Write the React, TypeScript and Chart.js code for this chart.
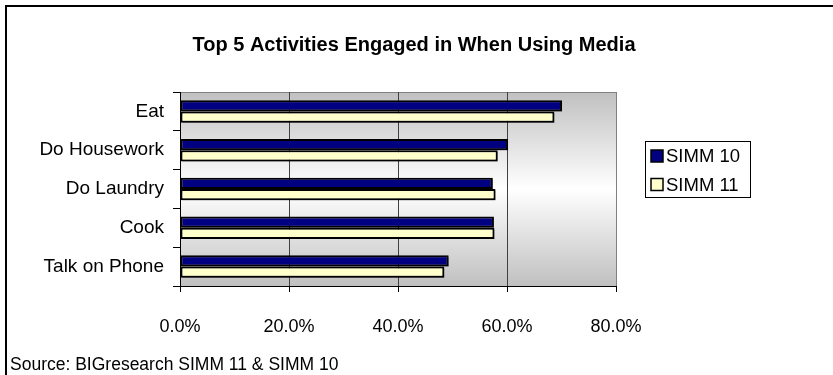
import React, { useEffect, useRef } from "react";
import { Chart, registerables } from "chart.js";

Chart.register(...registerables);

const TITLE = "Top 5 Activities Engaged in When Using Media";
const SOURCE = "Source: BIGresearch SIMM 11 & SIMM 10";
const categories = ["Eat", "Do Housework", "Do Laundry", "Cook", "Talk on Phone"];
const seriesNames = ["SIMM 10", "SIMM 11"];
const simm10 = [70.1, 60.2, 57.4, 57.6, 49.3];
const simm11 = [68.7, 58.3, 57.9, 57.7, 48.5];
const xTicks = [0, 20, 40, 60, 80];

const FONT = '"Liberation Sans", Arial, sans-serif';

const deco = {
  id: "deco",
  beforeDraw(chart: any) {
    const { ctx, chartArea: a } = chart;
    ctx.save();
    const g = ctx.createLinearGradient(0, a.top, 0, a.bottom);
    g.addColorStop(0, "#c0c0c0");
    g.addColorStop(0.5, "#ffffff");
    g.addColorStop(1, "#c0c0c0");
    ctx.fillStyle = g;
    ctx.fillRect(a.left, a.top, a.right - a.left, a.bottom - a.top);
    ctx.strokeStyle = "#808080";
    ctx.lineWidth = 1;
    ctx.beginPath();
    ctx.moveTo(a.left, a.top + 0.5);
    ctx.lineTo(a.right + 0.5, a.top + 0.5);
    ctx.lineTo(a.right + 0.5, a.bottom);
    ctx.stroke();
    ctx.restore();
  },
  beforeDatasetsDraw(chart: any) {
    const ctx = chart.ctx;
    ctx.save();
    ctx.shadowColor = "rgba(0,0,0,0.35)";
    ctx.shadowOffsetX = 2;
    ctx.shadowOffsetY = 2;
    ctx.shadowBlur = 0;
  },
  afterDatasetsDraw(chart: any) {
    chart.ctx.restore();
  },
  afterDraw(chart: any) {
    const { ctx } = chart;
    ctx.save();
    // outer border
    ctx.strokeStyle = "#000";
    ctx.lineWidth = 2;
    ctx.beginPath();
    ctx.moveTo(6, 380);
    ctx.lineTo(6, 6);
    ctx.lineTo(840, 6);
    ctx.stroke();
    // title
    ctx.fillStyle = "#000";
    ctx.font = `bold 20px ${FONT}`;
    ctx.textAlign = "center";
    ctx.textBaseline = "middle";
    ctx.fillText(TITLE, 414, 45);
    // source
    ctx.font = `17.5px ${FONT}`;
    ctx.textAlign = "left";
    ctx.fillText(SOURCE, 10, 365);
    // legend
    ctx.lineWidth = 1;
    ctx.strokeStyle = "#000";
    ctx.fillStyle = "#fff";
    ctx.fillRect(645.5, 141.5, 105, 56);
    ctx.strokeRect(645.5, 141.5, 105, 56);
    const ds = chart.data.datasets;
    const ys = [156, 184.5];
    ds.forEach((d: any, i: number) => {
      ctx.fillStyle = d.backgroundColor;
      ctx.fillRect(651, ys[i] - 6, 12, 12);
      ctx.lineWidth = 1.5;
      ctx.strokeRect(651, ys[i] - 6, 12, 12);
      ctx.fillStyle = "#000";
      ctx.font = `18.5px ${FONT}`;
      ctx.textBaseline = "middle";
      ctx.fillText(d.label, 666, ys[i] + 1);
    });
    ctx.restore();
  },
};

export default function App() {
  const ref = useRef<HTMLCanvasElement>(null);
  useEffect(() => {
    const chart = new Chart(ref.current!, {
      type: "bar",
      data: {
        labels: categories,
        datasets: [
          {
            label: seriesNames[0],
            data: simm10,
            backgroundColor: "#000080",
            borderColor: "#000",
            borderWidth: 2,
            borderSkipped: false,
            categoryPercentage: 0.58,
            barPercentage: 1,
          },
          {
            label: seriesNames[1],
            data: simm11,
            backgroundColor: "#ffffcc",
            borderColor: "#000",
            borderWidth: 2,
            borderSkipped: false,
            categoryPercentage: 0.58,
            barPercentage: 1,
          },
        ],
      },
      options: {
        indexAxis: "y",
        responsive: false,
        animation: false,
        layout: { padding: { left: 0, right: 217, top: 92, bottom: 29 } },
        plugins: {
          legend: { display: false },
          title: { display: false },
          tooltip: { enabled: false },
        },
        scales: {
          x: {
            min: 0,
            max: 80,
            afterFit: (s: any) => {
              s.height = 60;
            },
            afterBuildTicks: (s: any) => {
              s.ticks = xTicks.map((v) => ({ value: v }));
            },
            ticks: {
              stepSize: 20,
              color: "#000",
              padding: 24,
              font: { family: FONT, size: 18 },
              callback: (v: any) => Number(v).toFixed(1) + "%",
            },
            grid: {
              color: (c: any) => (c.tick && c.tick.value === 80 ? "#808080" : "#404040"),
              tickColor: "#000",
              tickLength: 6,
              lineWidth: 1,
            },
            border: { color: "#000", width: 1 },
          },
          y: {
            afterFit: (s: any) => {
              s.width = 180;
            },
            ticks: {
              color: "#000",
              padding: 9,
              font: { family: FONT, size: 19 },
            },
            grid: {
              drawOnChartArea: false,
              tickLength: 7,
              tickColor: "#000",
              offset: true,
            },
            border: { color: "#000", width: 1 },
          },
        },
      },
      plugins: [deco],
    } as any);
    return () => chart.destroy();
  }, []);
  return (
    <div style={{ position: "absolute", left: 0, top: 0, width: 833, height: 375, background: "#fff" }}>
      <canvas ref={ref} width={833} height={375} style={{ display: "block" }} />
    </div>
  );
}
